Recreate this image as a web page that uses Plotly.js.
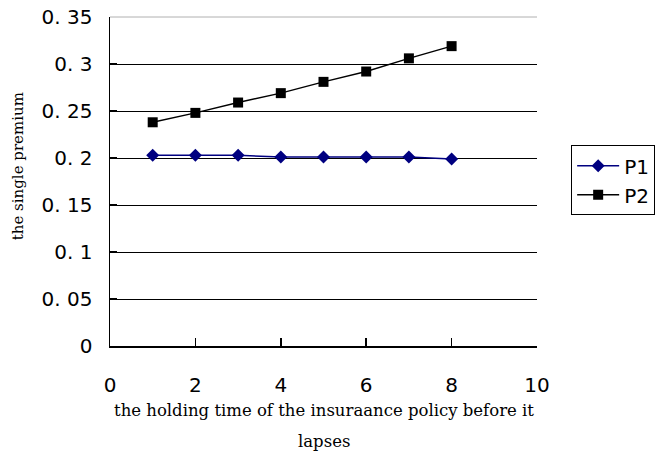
<!DOCTYPE html>
<html>
<head>
<meta charset="utf-8">
<script src="https://cdn.plot.ly/plotly-3.0.1.min.js"></script>
<style>
  html, body { margin: 0; padding: 0; background: #fff; }
  #chart { width: 662px; height: 459px; }
</style>
</head>
<body>
<div id="chart"></div>
<script>
// Holding time (years) before the policy lapses
const holdingTime = [1, 2, 3, 4, 5, 6, 7, 8];
// Single premium under the two pricing schemes
const premiumP1 = [0.203, 0.203, 0.203, 0.201, 0.201, 0.201, 0.201, 0.199];
const premiumP2 = [0.238, 0.248, 0.259, 0.269, 0.281, 0.292, 0.306, 0.319];

const yTickVals = [0, 0.05, 0.1, 0.15, 0.2, 0.25, 0.3, 0.35];
const yTickText = ['0', '0. 05', '0. 1', '0. 15', '0. 2', '0. 25', '0. 3', '0. 35'];
const xTickVals = [0, 2, 4, 6, 8, 10];

const tickFont = { family: 'DejaVu Sans', size: 20, color: '#000' };
const xTitleFont = { family: 'DejaVu Serif', size: 16.5, color: '#000' };
const yTitleFont = { family: 'DejaVu Serif', size: 15, color: '#000' };

const traces = [
  {
    x: holdingTime, y: premiumP1, name: 'P1', type: 'scatter', mode: 'lines+markers',
    line: { color: '#000080', width: 1.5 },
    marker: { symbol: 'diamond', size: 10, color: '#000080' }
  },
  {
    x: holdingTime, y: premiumP2, name: 'P2', type: 'scatter', mode: 'lines+markers',
    line: { color: '#000000', width: 1.5 },
    marker: { symbol: 'square', size: 10, color: '#000000' }
  }
];

const layout = {
  width: 662, height: 459,
  margin: { l: 110, r: 125, t: 17, b: 113, autoexpand: false },
  paper_bgcolor: '#fff', plot_bgcolor: '#fff',
  showlegend: true,
  xaxis: {
    range: [0, 10], tickvals: xTickVals, ticktext: xTickVals.map(String),
    showgrid: false, zeroline: false,
    showline: true, linecolor: '#000', linewidth: 1.5,
    ticks: 'inside', ticklen: 8, tickcolor: '#000', tickwidth: 1.5,
    ticklabelstandoff: 20, tickfont: tickFont
  },
  yaxis: {
    range: [0, 0.35], tickvals: yTickVals, ticktext: yTickText,
    showgrid: true, gridcolor: '#000', gridwidth: 1, zeroline: false,
    showline: true, linecolor: '#000', linewidth: 1.5,
    ticks: 'inside', ticklen: 7, tickcolor: '#000', tickwidth: 1.5,
    ticklabelstandoff: 12, tickfont: tickFont
  },
  legend: {
    x: 1.08, y: 0.61, xanchor: 'left', yanchor: 'top',
    bordercolor: '#000', borderwidth: 1, bgcolor: '#fff',
    font: tickFont, tracegroupgap: 0, itemwidth: 42
  },
  shapes: [
    // light upper border of the plot area
    { type: 'line', xref: 'paper', yref: 'paper', x0: 0, x1: 1, y0: 1, y1: 1,
      line: { color: '#b0b0b0', width: 1 }, layer: 'above' }
  ],
  annotations: [
    { text: 'the holding time of the insuraance policy before it', xref: 'paper', yref: 'paper',
      x: 0.5, y: -0.195, xanchor: 'center', yanchor: 'middle', showarrow: false, font: xTitleFont },
    { text: 'lapses', xref: 'paper', yref: 'paper',
      x: 0.5, y: -0.29, xanchor: 'center', yanchor: 'middle', showarrow: false, font: xTitleFont },
    { text: 'the single premium', xref: 'paper', yref: 'paper', textangle: -90,
      x: -0.215, y: 0.547, xanchor: 'center', yanchor: 'middle', showarrow: false, font: yTitleFont }
  ]
};

Plotly.newPlot('chart', traces, layout, { displayModeBar: false, staticPlot: true });
</script>
</body>
</html>
